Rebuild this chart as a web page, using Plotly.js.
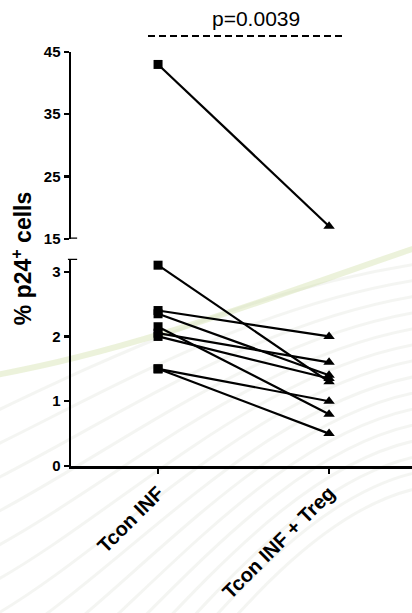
<!DOCTYPE html>
<html>
<head>
<meta charset="utf-8">
<script src="https://cdn.plot.ly/plotly-3.0.1.min.js"></script>
<style>html,body{margin:0;padding:0;background:#fff;}#chart{width:412px;height:613px;}</style>
</head>
<body>
<div id="chart"></div>
<script>
// Data
const categories = ['Tcon INF', 'Tcon INF + Treg'];
const tconInf     = [43, 3.1, 2.4, 2.35, 2.15, 2.05, 2.0, 1.5, 1.5];
const tconInfTreg = [17, 1.3, 2.0, 1.4, 0.8, 1.6, 1.35, 1.0, 0.5];
const pValueText = 'p=0.0039';
const bottomTicks = [0, 1, 2, 3];
const topTicks = [15, 25, 35, 45];

const FONT = 'Liberation Sans, Arial, sans-serif';
const breakValue = 15;

// faint decorative watermark (background only)
function watermark() {
  let p = '';
  // fan of faint arcs converging toward the upper right
  for (let k = 1; k < 16; k++) {
    const yl = 380 + k * 34, yr = 250 + k * 16;
    p += `<path d="M -10 ${yl} C 120 ${yl - 60 - k * 2}, 260 ${yr + 20}, 430 ${yr - 4}" fill="none" stroke="rgba(185,195,175,0.16)" stroke-width="3"/>`;
  }
  p += `<path d="M -10 376 C 140 350, 290 290, 430 243" fill="none" stroke="rgba(205,222,160,0.38)" stroke-width="6"/>`;
  const svg = `<svg xmlns="http://www.w3.org/2000/svg" width="412" height="613" viewBox="0 0 412 613">${p}</svg>`;
  return 'data:image/svg+xml;charset=utf-8,' + encodeURIComponent(svg);
}

const traces = tconInf.map((v, i) => {
  const upper = v > breakValue;
  return {
    type: 'scatter',
    mode: 'lines+markers',
    x: categories,
    y: [v, tconInfTreg[i]],
    yaxis: upper ? 'y2' : 'y',
    xaxis: 'x',
    line: {color: '#000', width: 2.2},
    marker: {symbol: ['square', 'triangle-up'], size: [9, 10], color: '#000', opacity: 1,
             line: {width: 0}},
    showlegend: false,
    hoverinfo: 'skip',
    cliponaxis: false
  };
});

const axisCommon = {
  showline: true, linecolor: '#000', linewidth: 2.5,
  ticks: 'outside', ticklen: 5, tickwidth: 2.2, tickcolor: '#000',
  showgrid: false, zeroline: false, fixedrange: true
};

const layout = {
  width: 412, height: 613,
  margin: {l: 71, r: 0, t: 52, b: 147},
  paper_bgcolor: '#fff', plot_bgcolor: 'rgba(0,0,0,0)',
  showlegend: false,
  images: [{
    source: watermark(), xref: 'paper', yref: 'paper',
    x: -71 / 341, y: 466 / 414, sizex: 412 / 341, sizey: 613 / 414,
    xanchor: 'left', yanchor: 'top', sizing: 'stretch', layer: 'below'
  }],
  xaxis: Object.assign({}, axisCommon, {
    type: 'category',
    range: [-0.509, 1.485],
    tickangle: -45,
    tickfont: {family: FONT, size: 20, color: '#000', weight: 'bold'},
    anchor: 'y'
  }),
  yaxis: Object.assign({}, axisCommon, {
    domain: [0, 0.5007],
    range: [0, 3.2],
    tickvals: bottomTicks,
    tickfont: {family: FONT, size: 15, color: '#000', weight: 'bold'},
    anchor: 'x'
  }),
  yaxis2: Object.assign({}, axisCommon, {
    domain: [0.549, 1],
    range: [15, 45],
    tickvals: topTicks,
    tickfont: {family: FONT, size: 15, color: '#000', weight: 'bold'},
    anchor: 'x'
  }),
  shapes: [
    {type: 'line', xref: 'paper', yref: 'y', x0: -0.009, x1: 0.018, y0: 3.2, y1: 3.2,
     line: {color: '#000', width: 2.5}},
    {type: 'line', xref: 'paper', yref: 'y2', x0: 0, x1: 0.018, y0: 15, y1: 15,
     line: {color: '#000', width: 2.5}},
    {type: 'line', xref: 'paper', yref: 'paper', x0: 0.2258, x1: 0.7947, y0: 1.0386, y1: 1.0386,
     line: {color: '#000', width: 2, dash: '7px,4px'}}
  ],
  annotations: [
    {text: '<b>% p24<sup>+</sup> cells</b>', xref: 'paper', yref: 'paper',
     x: -0.1437, y: 0.502, xanchor: 'center', yanchor: 'middle', textangle: -90,
     showarrow: false, font: {family: FONT, size: 23, color: '#000'}},
    {text: pValueText, xref: 'paper', yref: 'paper', x: 0.5425, y: 1.082,
     xanchor: 'center', yanchor: 'middle', showarrow: false,
     font: {family: FONT, size: 21, color: '#000'}}
  ]
};

Plotly.newPlot('chart', traces, layout, {displayModeBar: false, staticPlot: true});
</script>
</body>
</html>
